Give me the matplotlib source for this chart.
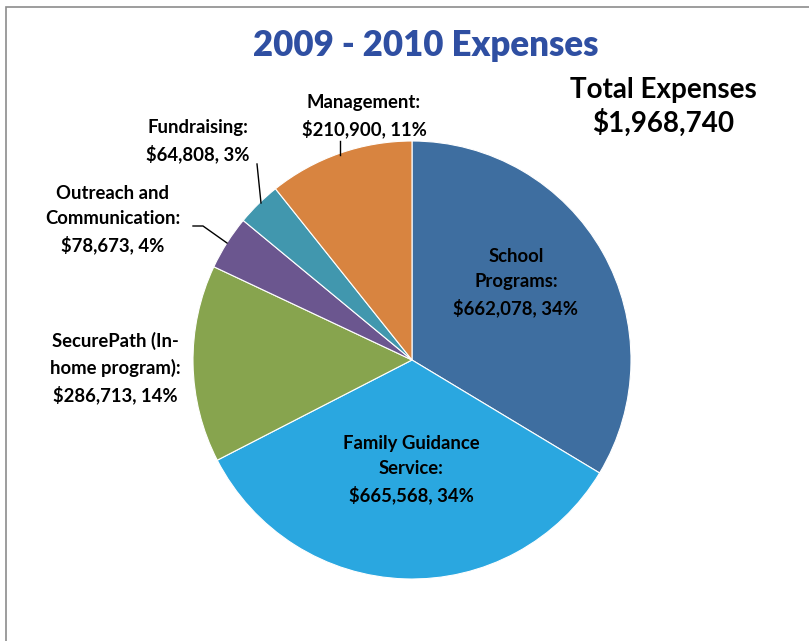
import matplotlib
matplotlib.use("Agg")
import matplotlib.pyplot as plt
from matplotlib.patches import Rectangle

plt.rcParams['font.family'] = ['Lato', 'DejaVu Sans']

categories = ["School Programs", "Family Guidance Service", "SecurePath (In-home program)",
              "Outreach and Communication", "Fundraising", "Management"]
label_texts = ["School\nPrograms:\n$662,078, 34%",
               "Family Guidance\nService:\n$665,568, 34%",
               "SecurePath (In-\nhome program):\n$286,713, 14%",
               "Outreach and\nCommunication:\n$78,673, 4%",
               "Fundraising:\n$64,808, 3%",
               "Management:\n$210,900, 11%"]
values = [662078, 665568, 286713, 78673, 64808, 210900]
colors = ["#3E6EA0", "#2AA7E0", "#87A44E", "#6B568F", "#4197AE", "#D88440"]
title = "2009 - 2010 Expenses"
total_label = "Total Expenses\n$1,968,740"

W, H = 809, 641
fig = plt.figure(figsize=(W / 100, H / 100), dpi=100)
ax = fig.add_axes([0, 0, 1, 1])
ax.set_xlim(0, W)
ax.set_ylim(0, H)
ax.set_aspect('equal')
ax.axis('off')

def Y(py):
    return H - py

# border
ax.add_patch(Rectangle((6, -10), W + 20, Y(7) + 10, fill=False, edgecolor="#8c8c8c", lw=1.2))

cx, cy, r = 412, Y(360), 219
ax.pie(values, colors=colors, startangle=90, counterclock=False, center=(cx, cy), radius=r,
       wedgeprops=dict(edgecolor="white", linewidth=0.8), frame=True)
ax.set_xlim(0, W)
ax.set_ylim(0, H)
ax.axis('off')

fs = 13.3
lbl_pos = [(516, 283), (411, 470), (115, 368), (113, 220), (198, 141), (364, 116)]
for (px, py), t in zip(lbl_pos, label_texts):
    ax.text(px, Y(py), t, ha='center', va='center', fontsize=fs, fontweight='bold',
            color='black', linespacing=1.55)

# leader lines
ax.plot([340, 340], [Y(141), Y(155)], color='black', lw=1)
ax.plot([257, 261], [Y(164), Y(203)], color='black', lw=1)
ax.plot([193, 203, 227], [Y(226), Y(226), Y(243)], color='black', lw=1)

ax.text(426, Y(45), title, ha='center', va='center', fontsize=25, fontweight='heavy', color="#2F4FA2")
ax.text(663, Y(107), total_label, ha='center', va='center', fontsize=20, fontweight='bold',
        color='black', linespacing=1.25)

fig.savefig("out.png", dpi=100)
